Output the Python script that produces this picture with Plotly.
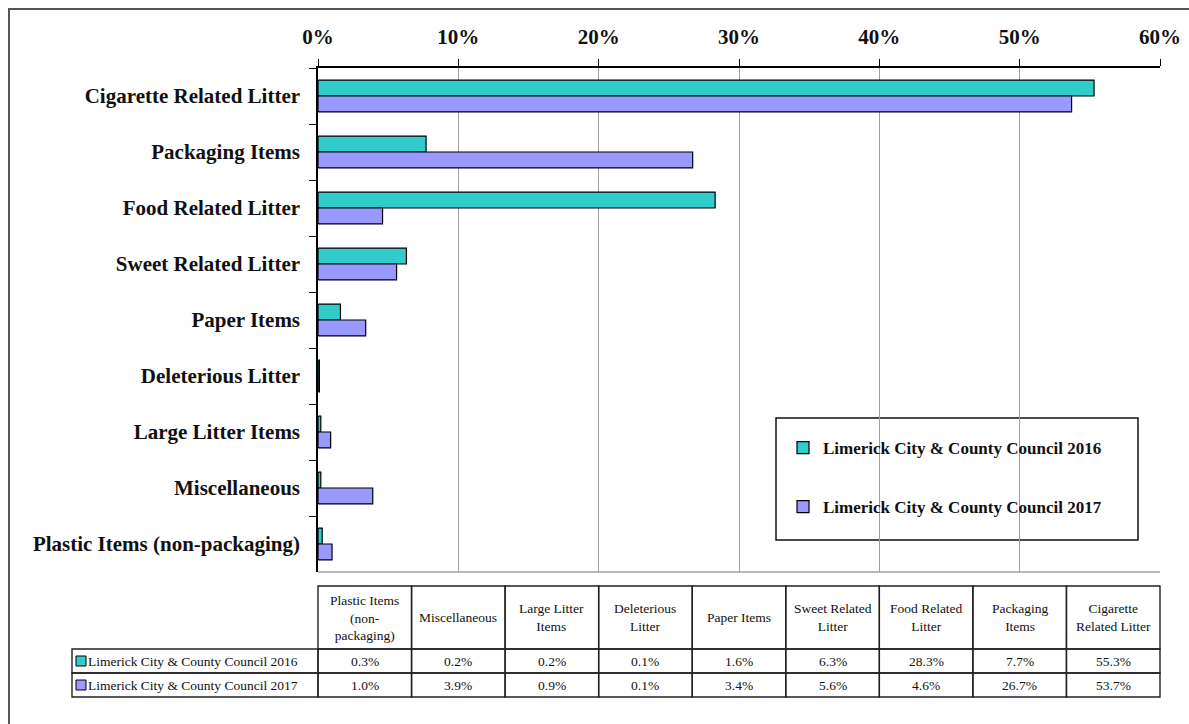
import plotly.graph_objects as go

# ---------------- data ----------------
categories = [
    "Cigarette Related Litter",
    "Packaging Items",
    "Food Related Litter",
    "Sweet Related Litter",
    "Paper Items",
    "Deleterious Litter",
    "Large Litter Items",
    "Miscellaneous",
    "Plastic Items (non-packaging)",
]
series_names = [
    "Limerick City & County Council 2016",
    "Limerick City & County Council 2017",
]
values_2016 = [55.3, 7.7, 28.3, 6.3, 1.6, 0.1, 0.2, 0.2, 0.3]
values_2017 = [53.7, 26.7, 4.6, 5.6, 3.4, 0.1, 0.9, 3.9, 1.0]

# table (ordered as in the data table, bottom category first)
table_headers = [
    "Plastic Items<br>(non-<br>packaging)",
    "Miscellaneous",
    "Large Litter<br>Items",
    "Deleterious<br>Litter",
    "Paper Items",
    "Sweet Related<br>Litter",
    "Food Related<br>Litter",
    "Packaging<br>Items",
    "Cigarette<br>Related Litter",
]
table_2016 = [0.3, 0.2, 0.2, 0.1, 1.6, 6.3, 28.3, 7.7, 55.3]
table_2017 = [1.0, 3.9, 0.9, 0.1, 3.4, 5.6, 4.6, 26.7, 53.7]

colors = ["#33CCCC", "#9999FF"]

# ---------------- layout geometry ----------------
W, H = 1189, 724
PX_L, PX_R = 318, 1160      # plot area in pixels
PY_T, PY_B = 68, 572

SERIF = "Liberation Serif"

fig = go.Figure()
for name, vals, col in zip(series_names, [values_2016, values_2017], colors):
    fig.add_trace(go.Bar(
        y=categories,
        x=[v / 100 for v in vals],
        name=name,
        orientation="h",
        marker=dict(color=col, line=dict(color="#000000", width=1.2)),
        legendgroup=name,
        hovertemplate="%{y}: %{x:.1%}<extra>" + name + "</extra>",
    ))

fig.update_layout(
    template="none",
    width=W, height=H, autosize=False,
    margin=dict(l=0, r=0, t=0, b=0, pad=0),
    paper_bgcolor="white", plot_bgcolor="white",
    barmode="group", bargap=0.43, bargroupgap=0,
    font=dict(family=SERIF, color="#000000"),
    showlegend=True,
    legend=dict(
        x=783 / W, y=1 - 430 / H, xanchor="left", yanchor="top",
        bgcolor="rgba(0,0,0,0)", borderwidth=0,
        font=dict(family=SERIF, size=17, weight="bold", color="#111"),
        traceorder="grouped", tracegroupgap=34,
    ),
    xaxis=dict(
        domain=[PX_L / W, PX_R / W], automargin=False,
        side="top", range=[0, 0.6], dtick=0.1, tickformat=".0%",
        showgrid=True, gridcolor="#a0a0a0", gridwidth=1,
        showline=True, linecolor="#000000", linewidth=1.5,
        ticks="outside", ticklen=7, tickcolor="#000000",
        tickfont=dict(family=SERIF, size=21, weight="bold", color="#111"),
        ticklabelstandoff=7, zeroline=False, fixedrange=True,
    ),
    yaxis=dict(
        domain=[1 - PY_B / H, 1 - PY_T / H], automargin=False,
        type="category", categoryorder="array", categoryarray=categories,
        range=[len(categories) - 0.5, -0.5],
        showline=True, linecolor="#000000", linewidth=1.5,
        ticks="outside", ticklen=7, tickcolor="#000000", tickson="boundaries",
        tickfont=dict(family=SERIF, size=21, weight="bold", color="#111"),
        ticklabelstandoff=12, showgrid=False, zeroline=False, fixedrange=True,
    ),
)

# ---------------- data table on its own axes ----------------
COLW = (PX_R - PX_L) / len(table_headers)   # pixel width of one data column
LABEL_L = 72                                   # left edge of row-label cells
ROW_H = 24
HDR_H = 63
TB_BOT = 697
L_UNITS = (PX_L - LABEL_L) / COLW
HDR_UNITS = HDR_H / ROW_H
pad = 0.06
x2_lo, x2_hi = -L_UNITS - pad, len(table_headers) + pad
y2_lo, y2_hi = -pad, 2 + HDR_UNITS + pad
fig.update_layout(
    xaxis2=dict(
        domain=[(PX_L + x2_lo * COLW) / W, (PX_L + x2_hi * COLW) / W],
        range=[x2_lo, x2_hi], visible=False, fixedrange=True, anchor="y2",
        automargin=False,
    ),
    yaxis2=dict(
        domain=[1 - (TB_BOT - y2_lo * ROW_H) / H, 1 - (TB_BOT - y2_hi * ROW_H) / H],
        range=[y2_lo, y2_hi], visible=False, fixedrange=True, anchor="x2",
        automargin=False,
    ),
)

cell_line = dict(color="#222222", width=1.4)
tfont = dict(family=SERIF, size=13.5, color="#111")
shapes = []
annotations = []
n = len(table_headers)
for i in range(n):
    shapes.append(dict(type="rect", xref="x2", yref="y2", x0=i, x1=i + 1,
                       y0=2, y1=2 + HDR_UNITS, line=cell_line))
    annotations.append(dict(xref="x2", yref="y2", x=i + 0.5, y=2 + HDR_UNITS / 2,
                            text=table_headers[i], showarrow=False, font=tfont,
                            align="center"))
    for r, vals in ((1, table_2016), (0, table_2017)):
        shapes.append(dict(type="rect", xref="x2", yref="y2", x0=i, x1=i + 1,
                           y0=r, y1=r + 1, line=cell_line))
        annotations.append(dict(xref="x2", yref="y2", x=i + 0.5, y=r + 0.5,
                                text=f"{vals[i]:.1f}%", showarrow=False, font=tfont))

sw = 10 / COLW      # swatch width in column units
swh = 10 / ROW_H
for r, name, col in ((1, series_names[0], colors[0]), (0, series_names[1], colors[1])):
    shapes.append(dict(type="rect", xref="x2", yref="y2", x0=-L_UNITS, x1=0,
                       y0=r, y1=r + 1, line=cell_line))
    sx0 = -L_UNITS + 4 / COLW
    shapes.append(dict(type="rect", xref="x2", yref="y2", x0=sx0, x1=sx0 + sw,
                       y0=r + 0.5 - swh / 2, y1=r + 0.5 + swh / 2,
                       fillcolor=col, line=dict(color="#000000", width=1)))
    annotations.append(dict(xref="x2", yref="y2", x=sx0 + sw, y=r + 0.5,
                            xanchor="left", text=name, showarrow=False, font=tfont))

# plot-area border (bottom, grey)
shapes.append(dict(type="line", xref="x", yref="y domain", x0=0, x1=0.6, y0=0, y1=0,
                   line=dict(color="#a0a0a0", width=1.5)))
# legend box
shapes.append(dict(type="rect", xref="paper", yref="paper",
                   x0=776 / W, x1=1138 / W, y0=1 - 540 / H, y1=1 - 418 / H,
                   line=dict(color="#111111", width=1.5), fillcolor="white", layer="below"))
# outer frame
shapes.append(dict(type="rect", xref="paper", yref="paper",
                   x0=9 / W, x1=1.02, y0=-0.02, y1=1 - 9 / H,
                   line=dict(color="#555555", width=2)))

fig.update_layout(shapes=shapes, annotations=annotations)

fig.write_html(
    "out.html",
    config={"displayModeBar": False},
    post_script="document.body.style.margin='0';document.body.style.overflow='hidden';",
)
